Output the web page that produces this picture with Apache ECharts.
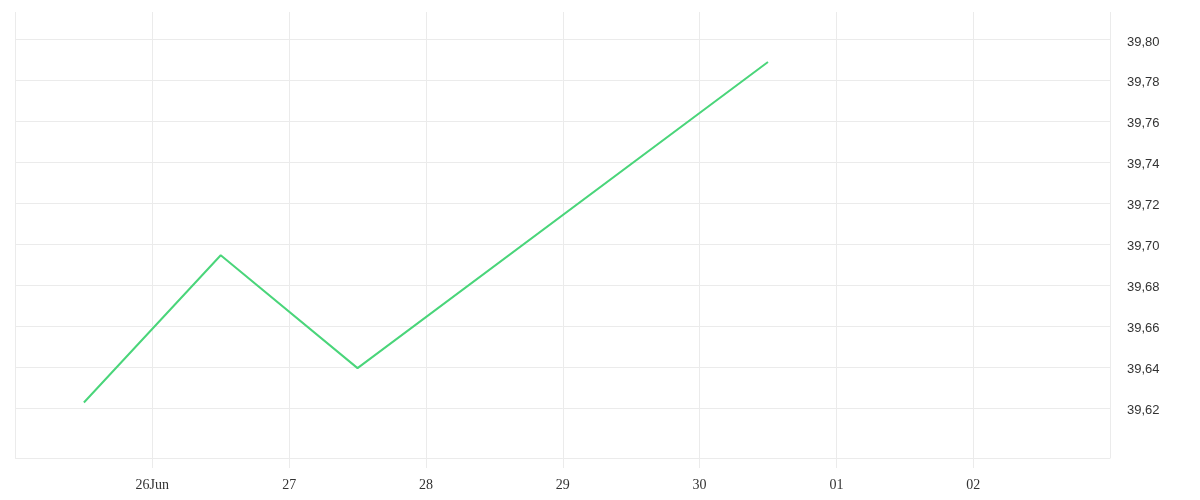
<!DOCTYPE html>
<html>
<head>
<meta charset="utf-8">
<script src="https://cdn.jsdelivr.net/npm/echarts@6/dist/echarts.min.js"></script>
<style>
html,body{margin:0;padding:0;background:#fff;}
#c{width:1200px;height:500px;}
</style>
</head>
<body>
<div id="c"></div>
<script>
// Data
const dates = ['2024-06-25T12:00:00Z', '2024-06-26T12:00:00Z', '2024-06-27T12:00:00Z', '2024-06-30T12:00:00Z'];
const values = [39.6227, 39.6946, 39.6395, 39.7890];
const xMin = '2024-06-25T00:00:00Z';
const xMax = '2024-07-03T00:00:00Z';
const yMin = 39.60;
const yMax = 39.8134;
const yInterval = 0.02;

const DAY = 86400000;
const chart = echarts.init(document.getElementById('c'));
const seriesData = dates.map((d, i) => [Date.parse(d), values[i]]);
const gridColor = '#ebebeb';

chart.setOption({
  animation: false,
  grid: [
    { left: 15.5, right: 90, top: 12, bottom: 42, containLabel: false },
    { left: 15.5, right: 90, top: 12, bottom: 51, containLabel: false }
  ],
  xAxis: [{
    gridIndex: 0,
    type: 'value',
    min: Date.parse(xMin),
    max: Date.parse(xMax),
    interval: DAY,
    axisLine: { show: true, lineStyle: { color: gridColor, width: 1 } },
    axisTick: { show: true, length: 10, lineStyle: { color: gridColor } },
    splitLine: { show: true, lineStyle: { color: gridColor, width: 1 } },
    axisLabel: {
      showMinLabel: false,
      showMaxLabel: false,
      margin: 20,
      color: '#333',
      fontFamily: 'Liberation Serif',
      fontSize: 14,
      formatter: function (v) {
        const d = new Date(v);
        const day = String(d.getUTCDate()).padStart(2, '0');
        return day === '26' ? day + 'Jun' : day;
      }
    }
  }, {
    gridIndex: 1,
    type: 'value',
    min: Date.parse(xMin),
    max: Date.parse(xMax),
    interval: DAY,
    show: false
  }],
  yAxis: [{
    gridIndex: 0,
    type: 'value',
    min: 0, max: 1,
    show: false
  }, {
    gridIndex: 1,
    type: 'value',
    position: 'right',
    min: yMin,
    max: yMax,
    interval: yInterval,
    axisLine: { show: false },
    axisTick: { show: false },
    splitLine: { show: true, showMinLine: false, showMaxLine: false, lineStyle: { color: gridColor, width: 1 } },
    axisLabel: {
      showMinLabel: false,
      showMaxLabel: false,
      margin: 17,
      verticalAlign: 'top',
      lineHeight: 13,
      padding: [-4, 0, 0, 0],
      color: '#333',
      fontFamily: 'Liberation Sans',
      fontSize: 13,
      formatter: function (v) { return v.toFixed(2).replace('.', ','); }
    }
  }],
  series: [{
    type: 'line',
    xAxisIndex: 1,
    yAxisIndex: 1,
    data: seriesData,
    symbol: 'none',
    lineStyle: { color: '#4ad57a', width: 2 },
    itemStyle: { color: '#4ad57a' }
  }]
});
</script>
</body>
</html>
